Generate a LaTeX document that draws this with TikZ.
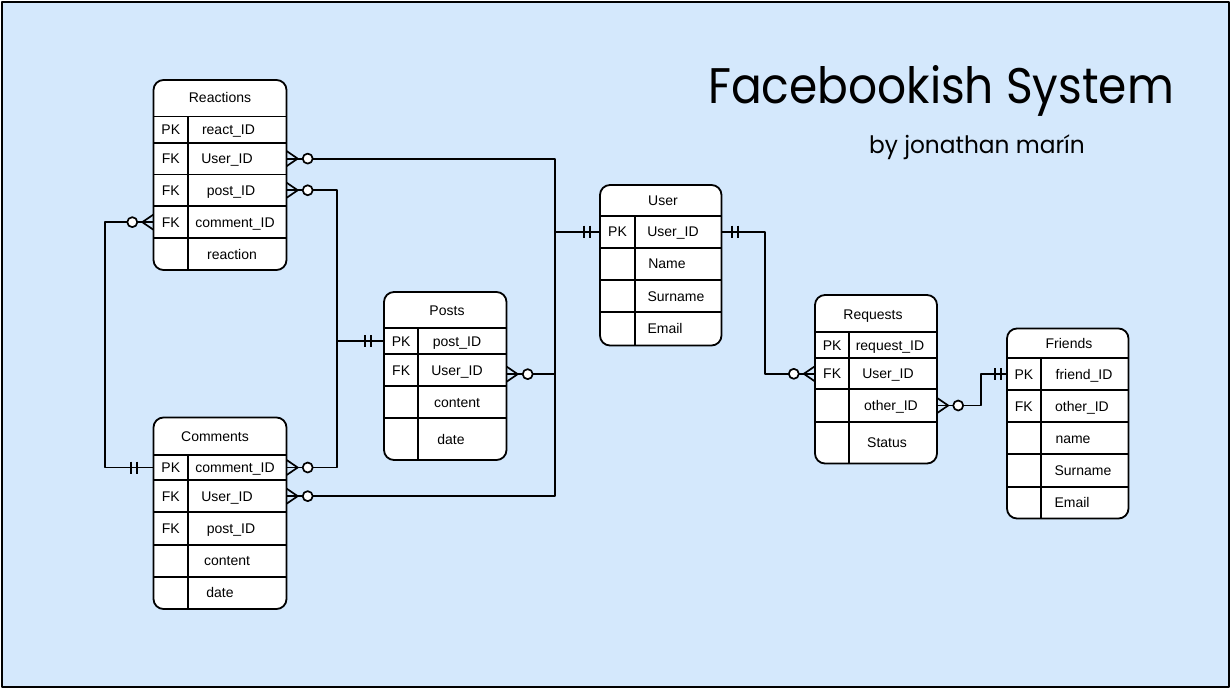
\documentclass[tikz,border=0pt]{standalone}
\usepackage{fontspec}
\setmainfont{Liberation Sans}
\newfontfamily\titlefont{Poppins}
\definecolor{bg}{RGB}{212,232,252}
\tikzset{
  tbl/.style={draw, fill=white, line width=1.8pt, rounded corners=10pt, inner sep=0pt},
  rowbox/.style={inner sep=0pt, draw=none},
  tline/.style={line width=1.7pt},
  txt/.style={font=\fontsize{14}{16}\selectfont, inner sep=0pt, text height=10pt, text depth=0pt},
  conn/.style={line width=1.8pt},
  sym/.style={line width=1.7pt},
  pics/manyopt/.style={code={\draw[sym] (0,-7.5) -- (11,0) -- (0,7.5); \draw[sym, fill=white] (21,0) circle[radius=5];}},
  pics/onlyone/.style={code={\draw[sym] (#1,-6) -- (#1,6) ({#1+6},-6) -- ({#1+6},6);}},
  pics/onlyone/.default=10,
}
% name, x1, xd, x2, y1, y2, key, field, fieldx
\newcommand\erow[9]{%
  \draw[tline] (#2,#5) -- (#4,#5);
  \draw[tline] (#3,#5) -- (#3,#6);
  \node[rowbox, minimum width={(#4-#2)*1pt}, minimum height={(#6-#5)*1pt}] (#1) at ({(#2+#4)/2},{(#5+#6)/2}) {};
  \node[txt] (#1-k) at ({(#2+#3)/2},{(#5+#6)/2}) {#7};
  \node[txt] (#1-f) at (#9,{(#5+#6)/2}) {#8};
}
\begin{document}
\begin{tikzpicture}[x=1pt,y=-1pt,line join=round]
\useasboundingbox (0,0) rectangle (1231,689);
\fill[white] (0,0) rectangle (1231,689);
\draw[fill=bg, line width=1.5pt] (2,2) rectangle (1229,687);

% titles
\node[anchor=base, inner sep=0pt, font=\titlefont\fontsize{50}{56}\selectfont] (title) at (941,103) {\scalebox{0.91}[1]{Facebookish System}};
\node[anchor=base, inner sep=0pt, font=\titlefont\fontsize{24}{28}\selectfont] (author) at (977,153) {\scalebox{0.97}[1]{by jonathan marín}};

% Reactions
\node[tbl, minimum width=133pt, minimum height=190pt] (reactions) at (220,175) {};
\node[txt] (reactions-t) at (220,97) {Reactions};
\erow{rea-rid}{153.5}{188}{286.5}{116.5}{142.7}{PK}{react\_ID}{228.5}
\erow{rea-user}{153.5}{188}{286.5}{142.7}{174.5}{FK}{User\_ID}{227}
\erow{rea-post}{153.5}{188}{286.5}{174.5}{206}{FK}{post\_ID}{231}
\erow{rea-cid}{153.5}{188}{286.5}{206}{238.3}{FK}{comment\_ID}{235}
\erow{rea-react}{153.5}{188}{286.5}{238.3}{270}{}{reaction}{232}

% Comments
\node[tbl, minimum width=133pt, minimum height=191.5pt] (comments) at (220,513.25) {};
\node[txt] (comments-t) at (215,436) {Comments};
\erow{com-pk}{153.5}{188}{286.5}{455}{480}{PK}{comment\_ID}{235}
\erow{com-user}{153.5}{188}{286.5}{480}{512.3}{FK}{User\_ID}{227}
\erow{com-post}{153.5}{188}{286.5}{512.3}{545}{FK}{post\_ID}{231}
\erow{com-content}{153.5}{188}{286.5}{545}{576.7}{}{content}{227}
\erow{com-date}{153.5}{188}{286.5}{576.7}{609}{}{date}{220}

% Posts
\node[tbl, minimum width=122.5pt, minimum height=168pt] (posts) at (445.25,376) {};
\node[txt] (posts-t) at (447,310) {Posts};
\erow{pos-pk}{384}{418.3}{506.5}{328.3}{354.3}{PK}{post\_ID}{457}
\erow{pos-user}{384}{418.3}{506.5}{354.3}{386}{FK}{User\_ID}{457}
\erow{pos-content}{384}{418.3}{506.5}{386}{418.3}{}{content}{457}
\erow{pos-date}{384}{418.3}{506.5}{418.3}{460}{}{date}{451}

% User
\node[tbl, minimum width=121.5pt, minimum height=160.5pt] (user) at (660.75,265.25) {};
\node[txt] (user-t) at (663,200) {User};
\erow{usr-pk}{600}{635}{721.5}{215.7}{247.7}{PK}{User\_ID}{673}
\erow{usr-name}{600}{635}{721.5}{247.7}{280}{}{Name}{667}
\erow{usr-sur}{600}{635}{721.5}{280}{312.3}{}{Surname}{676}
\erow{usr-mail}{600}{635}{721.5}{312.3}{345.5}{}{Email}{665}

% Requests
\node[tbl, minimum width=122pt, minimum height=168.5pt] (requests) at (876,379.25) {};
\node[txt] (requests-t) at (873,314) {Requests};
\erow{req-pk}{815}{849.3}{937}{331.7}{358.3}{PK}{request\_ID}{890}
\erow{req-user}{815}{849.3}{937}{358.3}{389.3}{FK}{User\_ID}{888}
\erow{req-other}{815}{849.3}{937}{389.3}{421.7}{}{other\_ID}{891}
\erow{req-status}{815}{849.3}{937}{421.7}{463.5}{}{Status}{887}

% Friends
\node[tbl, minimum width=121.5pt, minimum height=190pt] (friends) at (1067.75,423.5) {};
\node[txt] (friends-t) at (1069,343) {Friends};
\erow{fri-pk}{1007}{1040.7}{1128.5}{358.3}{390}{PK}{friend\_ID}{1084}
\erow{fri-other}{1007}{1040.7}{1128.5}{390}{422.3}{FK}{other\_ID}{1082}
\erow{fri-name}{1007}{1040.7}{1128.5}{422.3}{454.3}{}{name}{1073}
\erow{fri-sur}{1007}{1040.7}{1128.5}{454.3}{486.7}{}{Surname}{1083}
\erow{fri-mail}{1007}{1040.7}{1128.5}{486.7}{518.5}{}{Email}{1072}

% bus coordinates
\coordinate (bus) at (555,0);
\coordinate (pbus) at (337,0);
\coordinate (lbus) at (105,0);
\coordinate (rbus) at (765,0);
\coordinate (fbus) at (981,0);

% connectors
\draw[conn] (rea-user.east) -| (bus |- usr-pk.west) -- (usr-pk.west);
\draw[conn] (com-user.east) -| (bus |- usr-pk.west);
\draw[conn] ([yshift=-4pt]pos-user.east) -- ([yshift=-4pt]pos-user.east -| bus);
\draw[conn] (rea-post.east) -| (pbus |- pos-pk.west) -- (pos-pk.west);
\draw[conn] (com-pk.east) -| (pbus |- pos-pk.west);
\draw[conn] (rea-cid.west) -| (lbus |- com-pk.west) -- (com-pk.west);
\draw[conn] (usr-pk.east) -| (rbus |- req-user.west) -- (req-user.west);
\draw[conn] (req-other.east) -| (fbus |- fri-pk.west) -- (fri-pk.west);

% end symbols
\pic at (rea-user.east) {manyopt};
\pic at (rea-post.east) {manyopt};
\pic[xscale=-1] at (rea-cid.west) {manyopt};
\pic at (com-pk.east) {manyopt};
\pic at (com-user.east) {manyopt};
\pic at ([yshift=-4pt]pos-user.east) {manyopt};
\pic[xscale=-1] at (req-user.west) {manyopt};
\pic at (req-other.east) {manyopt};
\pic[xscale=-1] at (com-pk.west) {onlyone=16};
\pic[xscale=-1] at (pos-pk.west) {onlyone=13};
\pic[xscale=-1] at (usr-pk.west) {onlyone};
\pic at (usr-pk.east) {onlyone};
\pic[xscale=-1] at (fri-pk.west) {onlyone=6};
\end{tikzpicture}
\end{document}
